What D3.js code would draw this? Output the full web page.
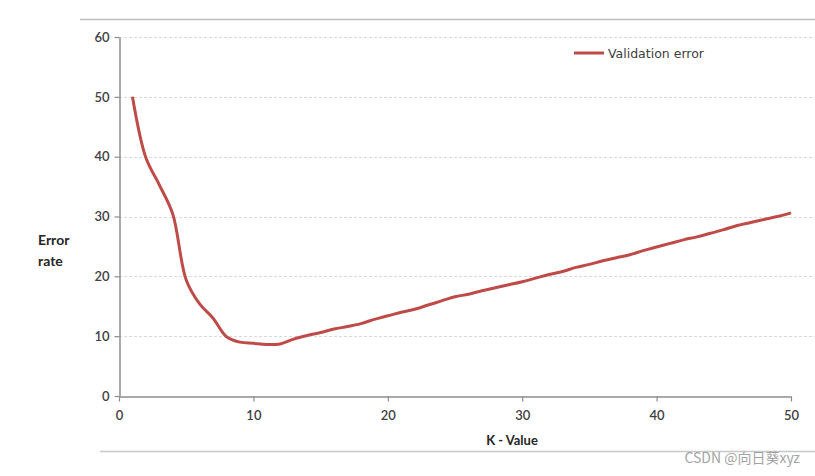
<!DOCTYPE html>
<html><head><meta charset="utf-8">
<script src="https://cdn.jsdelivr.net/npm/d3@7"></script>
<style>body{margin:0;background:#fff}</style>
</head><body>
<svg id="chart" width="815" height="476"></svg>
<script>
const kValues = d3.range(1, 51);
const validationError = [50, 39.8, 35.3, 30.4, 19.4, 15.4, 13.0, 9.9, 9.0, 8.8,
  8.6, 8.7, 9.5, 10.1, 10.6, 11.2, 11.6, 12.1, 12.8, 13.4,
  14.0, 14.5, 15.2, 15.9, 16.6, 17.0, 17.6, 18.1, 18.6, 19.1,
  19.7, 20.3, 20.8, 21.5, 22.0, 22.6, 23.1, 23.6, 24.3, 24.9,
  25.5, 26.1, 26.6, 27.2, 27.8, 28.5, 29.0, 29.5, 30.0, 30.6];
const xTicks = [0, 10, 20, 30, 40, 50];
const yTicks = [0, 10, 20, 30, 40, 50, 60];
const seriesName = "Validation error";

const svg = d3.select("#chart");
const x = d3.scaleLinear().domain([0, 50]).range([119, 791]);
const y = d3.scaleLinear().domain([0, 60]).range([396, 37]);
const lblFont = "Lato, 'Open Sans', sans-serif";

// frame lines
svg.append("line").attr("x1", 80).attr("x2", 815).attr("y1", 19.5).attr("y2", 19.5)
  .attr("stroke", "#bdbdbd").attr("stroke-width", 1.5);
svg.append("line").attr("x1", 100).attr("x2", 815).attr("y1", 451.5).attr("y2", 451.5)
  .attr("stroke", "#c8c8c8").attr("stroke-width", 1.5);

// grid
svg.append("g").selectAll("line").data(yTicks.filter(d => d > 0)).join("line")
  .attr("x1", 119).attr("x2", 815).attr("y1", d => Math.round(y(d)) + 0.5).attr("y2", d => Math.round(y(d)) + 0.5)
  .attr("stroke", "#d9d9d9").attr("stroke-dasharray", "3,2");

// axes
const yAxis = svg.append("g").attr("transform", "translate(119.5,0)")
  .call(d3.axisLeft(y).tickValues(yTicks).tickSize(5).tickSizeOuter(0));
const xAxis = svg.append("g").attr("transform", "translate(0,396.5)")
  .call(d3.axisBottom(x).tickValues(xTicks).tickSize(5).tickSizeOuter(0));
[yAxis, xAxis].forEach(a => {
  a.select(".domain").attr("stroke", "#8c8c8c").attr("stroke-width", 1.5);
  a.selectAll(".tick line").attr("stroke", "#8c8c8c").attr("stroke-width", 1.2);
  a.selectAll("text").attr("font-family", lblFont).attr("font-size", 13).attr("font-weight", 600).attr("fill", "#404040");
});
yAxis.selectAll("text").attr("x", -10);
xAxis.selectAll("text").attr("y", 14);

// axis titles
svg.append("text").attr("x", 512).attr("y", 445).attr("text-anchor", "middle")
  .attr("font-family", lblFont).attr("font-size", 13).attr("font-weight", 700).attr("fill", "#262626")
  .text("K - Value");
const yt = svg.append("text").attr("x", 38).attr("font-family", lblFont).attr("font-size", 14)
  .attr("font-weight", 700).attr("fill", "#262626");
yt.append("tspan").attr("x", 38).attr("y", 245).text("Error");
yt.append("tspan").attr("x", 38).attr("y", 266).text("rate");

// line
const line = d3.line().x((d, i) => x(kValues[i])).y(d => y(d)).curve(d3.curveCatmullRom.alpha(0.5));
svg.append("path").datum(validationError).attr("d", line)
  .attr("fill", "none").attr("stroke", "#be4b48").attr("stroke-width", 3).attr("stroke-linejoin", "round");

// legend
svg.append("line").attr("x1", 574).attr("x2", 604).attr("y1", 53).attr("y2", 53)
  .attr("stroke", "#be4b48").attr("stroke-width", 3);
svg.append("text").attr("x", 608).attr("y", 58).attr("font-family", "'DejaVu Sans', Verdana, sans-serif")
  .attr("font-size", 12.5).attr("fill", "#404040").text(seriesName);

// watermark
svg.append("text").attr("x", 800).attr("y", 463).attr("text-anchor", "end")
  .attr("font-family", "'Noto Sans CJK SC', sans-serif").attr("font-size", 14).attr("fill", "#9a9a9a")
  .attr("opacity", 0.9).text("CSDN @向日葵xyz");
</script>
</body></html>
